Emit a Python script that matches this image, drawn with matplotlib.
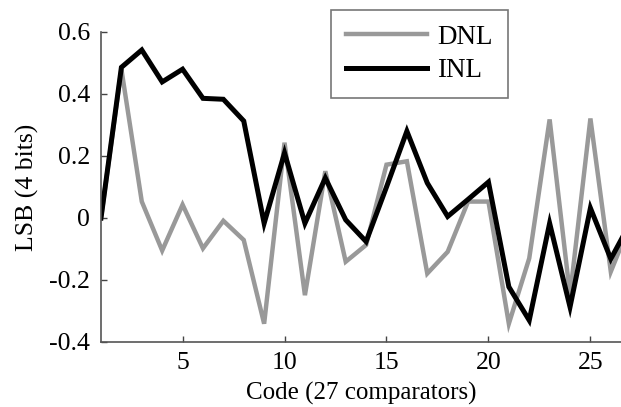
import matplotlib.pyplot as plt
import matplotlib.ticker as ticker

plt.rcParams['font.family'] = ['Liberation Serif', 'DejaVu Serif']

codes = list(range(1, 28))
dnl = [0.0, 0.48, 0.053, -0.105, 0.043, -0.098, -0.009, -0.071, -0.341, 0.243,
       -0.249, 0.151, -0.141, -0.087, 0.172, 0.183, -0.179, -0.109, 0.053, 0.053,
       -0.341, -0.13, 0.318, -0.249, 0.321, -0.173, -0.01]
inl = [0.0, 0.486, 0.542, 0.439, 0.48, 0.386, 0.383, 0.313, -0.017, 0.21,
       -0.017, 0.129, -0.006, -0.076, 0.1, 0.28, 0.113, 0.005, 0.06, 0.116,
       -0.222, -0.33, -0.017, -0.287, 0.032, -0.132, -0.01]

fig = plt.figure(figsize=(6.21, 4.07), dpi=100)
ax = fig.add_axes([101 / 621, 1 - 342 / 407, 1 - 101 / 621, 310 / 407])

ax.plot(codes, dnl, color='#999999', lw=3.2, label='DNL', solid_joinstyle='miter')
ax.plot(codes, inl, color='black', lw=3.6, label='INL', solid_joinstyle='miter')

ax.set_xlim(1, 26.5)
ax.set_ylim(-0.4, 0.6)
ax.set_xticks([5, 10, 15, 20, 25])
ax.set_yticks([-0.4, -0.2, 0, 0.2, 0.4, 0.6])
ax.yaxis.set_major_formatter(ticker.FuncFormatter(lambda v, p: '0' if abs(v) < 1e-9 else ('%.1f' % v)))
ax.tick_params(direction='in', length=4, width=1, colors='#444444', labelcolor='black',
               labelsize=18.5)
ax.tick_params(axis='y', pad=8)
ax.tick_params(axis='x', pad=7)

for s in ['top', 'right']:
    ax.spines[s].set_visible(False)
for s in ['left', 'bottom']:
    ax.spines[s].set_color('#555555')
    ax.spines[s].set_linewidth(1.2)

ax.set_xlabel('Code (27 comparators)', fontsize=18, labelpad=6)
ax.set_ylabel('LSB (4 bits)', fontsize=18.5, labelpad=7)

leg = ax.legend(loc='upper left', bbox_to_anchor=(331 / 621, 1 - 10 / 407),
                bbox_transform=fig.transFigure, fontsize=19.5, frameon=True,
                fancybox=False, handlelength=3.0, handletextpad=0.37,
                borderpad=0.55, labelspacing=0.3, borderaxespad=0)
leg.get_frame().set_edgecolor('#555555')
leg.get_frame().set_linewidth(1.2)

fig.savefig('out.png', dpi=100)
